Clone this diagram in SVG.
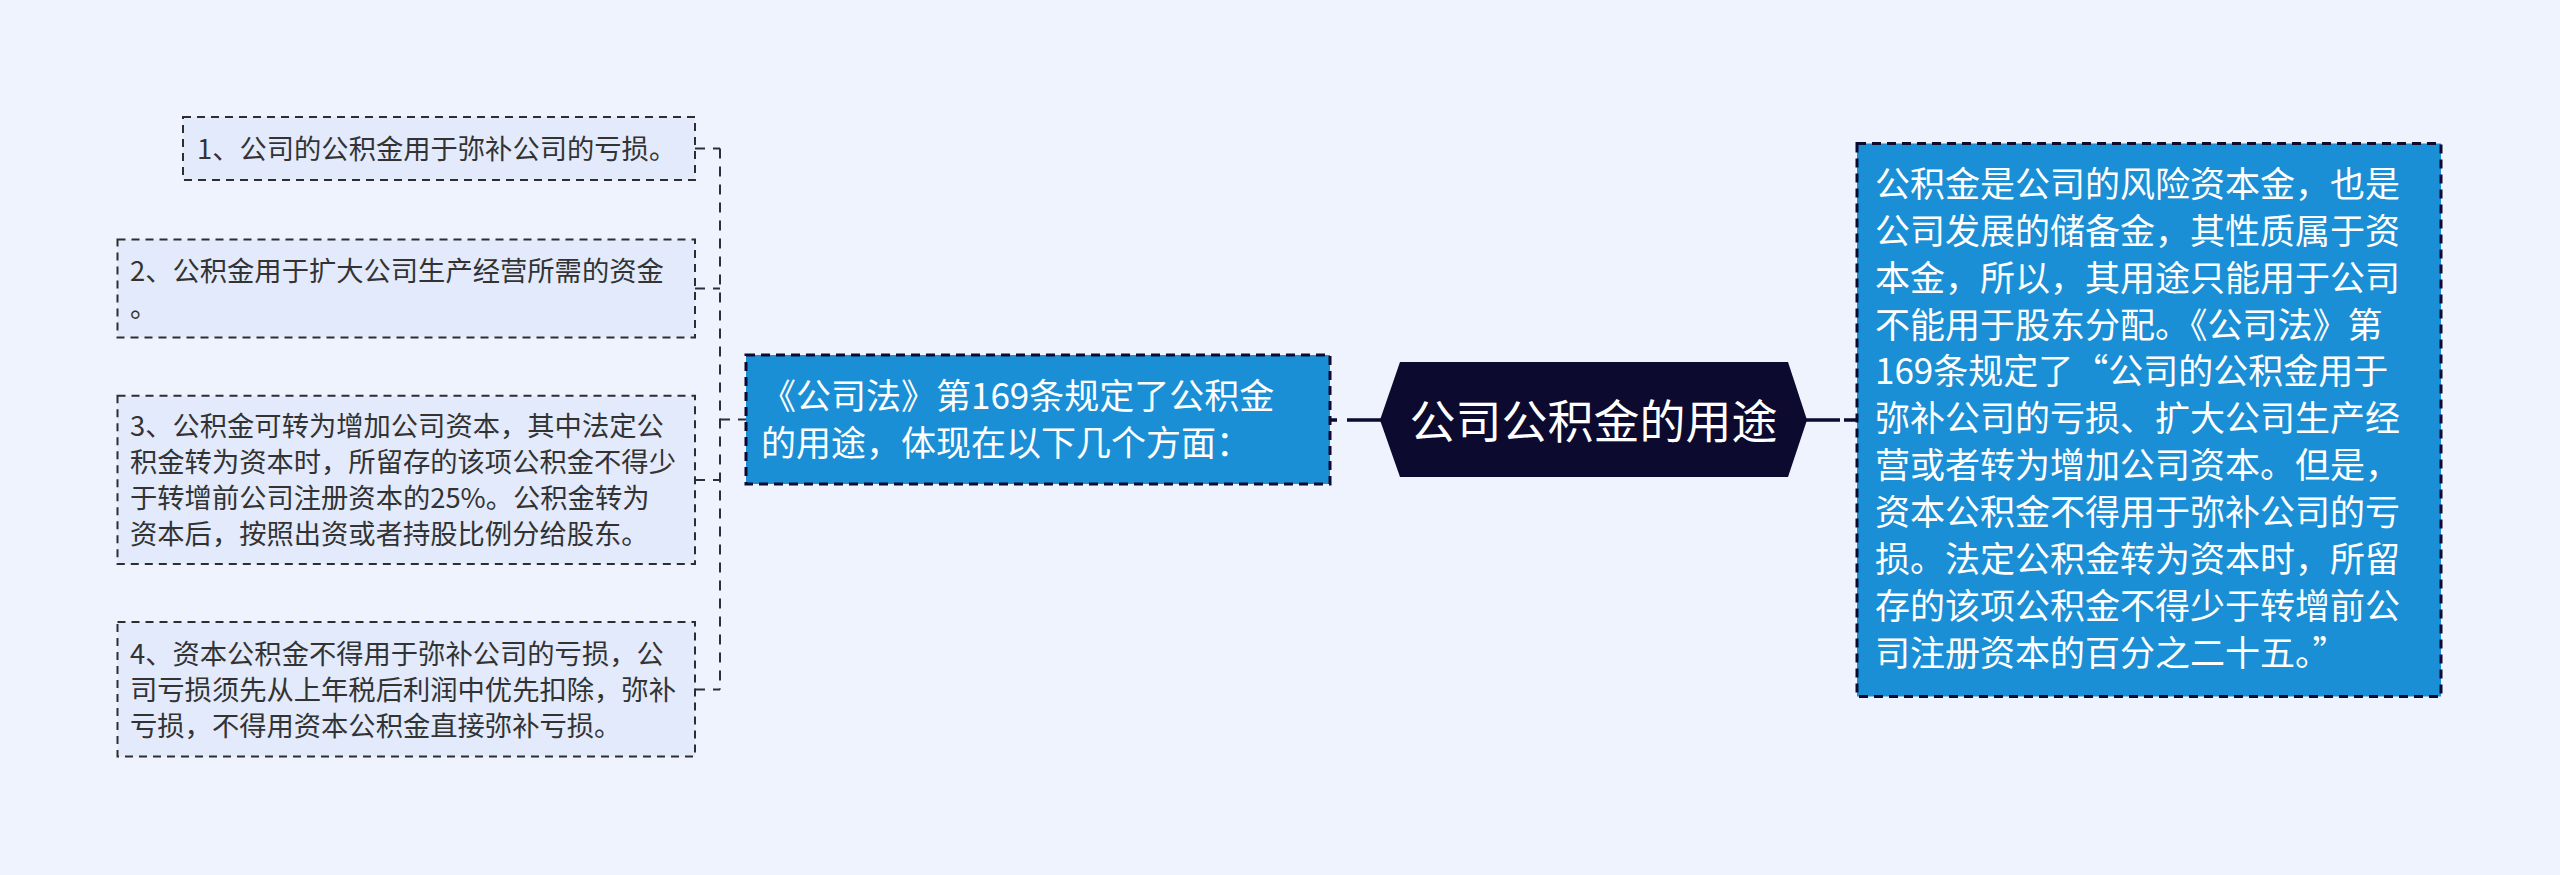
<svg xmlns="http://www.w3.org/2000/svg" width="2560" height="875" viewBox="0 0 2560 875">
<style>
.bg{fill:#eef3fe}
.leaf rect{fill:#e2eafb;stroke:#2e2e2e;stroke-width:2;stroke-dasharray:8 6}
.leaf text{font-family:"Noto Sans CJK SC","Noto Sans",sans-serif;font-size:27.3px;fill:#333333}
.blue rect{fill:#1b8fd5;stroke:#0c0a2e;stroke-width:3;stroke-dasharray:9 6}
.blue text{font-family:"Noto Sans CJK SC","Noto Sans",sans-serif;font-size:35px;fill:#ffffff}
.root polygon{fill:#0c0a2e}
.root text{font-family:"Noto Sans CJK SC","Noto Sans",sans-serif;font-size:46px;fill:#ffffff}
.thin{fill:none;stroke:#2e2e3a;stroke-width:2;stroke-dasharray:10 8}
.thick{fill:none;stroke:#0c0a2e;stroke-width:3.5}
</style>
<rect class="bg" x="0" y="0" width="2560" height="875"/>
<g id="connectors">
<path class="thin" d="M720,148.5 V689.5"/>
<path class="thin" d="M695,148.5 H720"/>
<path class="thin" d="M695,288.5 H720"/>
<path class="thin" d="M695,480 H720"/>
<path class="thin" d="M695,689.5 H720"/>
<path class="thin" d="M720,419.5 H746"/>
<path class="thick" d="M1381,420 H1330" stroke-dasharray="34 10"/>
<path class="thick" d="M1806,420 H1856" stroke-dasharray="34 4"/>
</g>
<g id="leaf1" class="leaf">
<rect x="183" y="117" width="512" height="63"/>
<text x="197" y="159.4">1、公司的公积金用于弥补公司的亏损。</text>
</g>
<g id="leaf2" class="leaf">
<rect x="117.5" y="239.5" width="577.5" height="98"/>
<text x="130" y="281.4">2、公积金用于扩大公司生产经营所需的资金</text>
<text x="130" y="317.4">。</text>
</g>
<g id="leaf3" class="leaf">
<rect x="117.5" y="395.7" width="577.5" height="168.3"/>
<text x="130" y="436.4">3、公积金可转为增加公司资本，其中法定公</text>
<text x="130" y="472.4">积金转为资本时，所留存的该项公积金不得少</text>
<text x="130" y="508.4">于转增前公司注册资本的25%。公积金转为</text>
<text x="130" y="544.4">资本后，按照出资或者持股比例分给股东。</text>
</g>
<g id="leaf4" class="leaf">
<rect x="117.5" y="622" width="577.5" height="134.5"/>
<text x="130" y="663.7">4、资本公积金不得用于弥补公司的亏损，公</text>
<text x="130" y="699.7">司亏损须先从上年税后利润中优先扣除，弥补</text>
<text x="130" y="735.7">亏损，不得用资本公积金直接弥补亏损。</text>
</g>
<g id="middle" class="blue">
<rect x="746" y="355" width="584" height="129"/>
<text x="761" y="409.3">《公司法》第169条规定了公积金</text>
<text x="761" y="456.2">的用途，体现在以下几个方面：</text>
</g>
<g id="root" class="root">
<polygon points="1380,420 1400,362 1788,362 1807,420 1788,477 1400,477"/>
<text x="1593.5" y="437.5" text-anchor="middle">公司公积金的用途</text>
</g>
<g id="right" class="blue">
<rect x="1857" y="143.5" width="584" height="553"/>
<text x="1875" y="196.8">公积金是公司的风险资本金，也是</text>
<text x="1875" y="243.7">公司发展的储备金，其性质属于资</text>
<text x="1875" y="290.6">本金，所以，其用途只能用于公司</text>
<text x="1875" y="337.5">不能用于股东分配。《公司法》第</text>
<text x="1875" y="384.4">169条规定了“公司的公积金用于</text>
<text x="1875" y="431.3">弥补公司的亏损、扩大公司生产经</text>
<text x="1875" y="478.2">营或者转为增加公司资本。但是，</text>
<text x="1875" y="525.1">资本公积金不得用于弥补公司的亏</text>
<text x="1875" y="572">损。法定公积金转为资本时，所留</text>
<text x="1875" y="618.9">存的该项公积金不得少于转增前公</text>
<text x="1875" y="665.8">司注册资本的百分之二十五。”</text>
</g>
</svg>
